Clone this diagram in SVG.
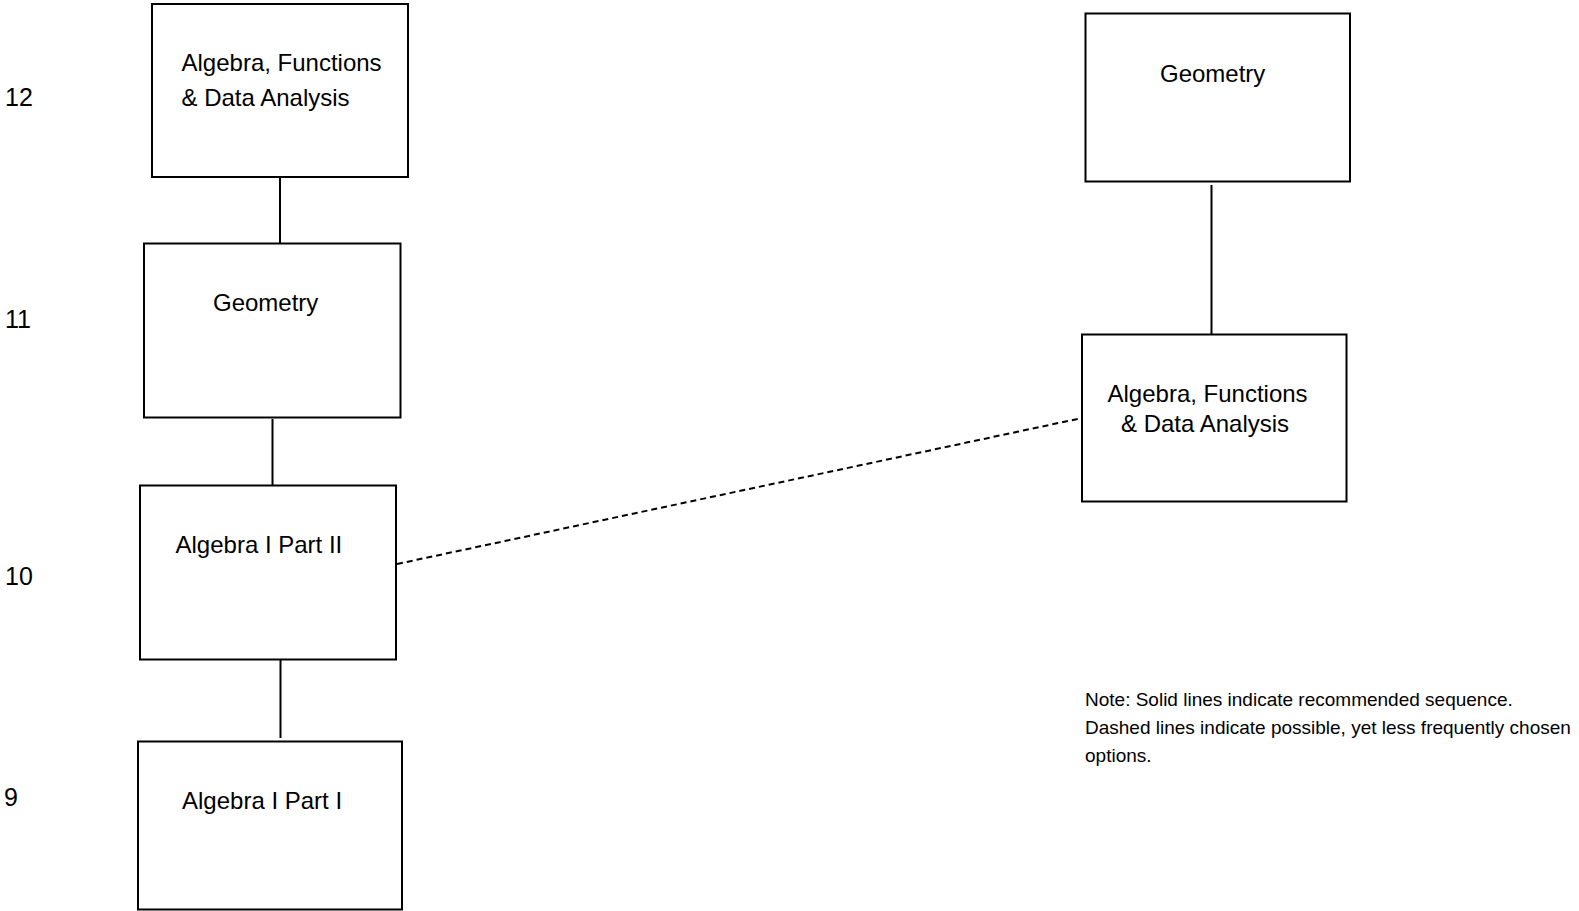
<svg xmlns="http://www.w3.org/2000/svg" width="1579" height="911" viewBox="0 0 1579 911">
<style>
.box{fill:#fff;stroke:#000;stroke-width:2}
.lbl{font-family:"Liberation Sans",Arial,sans-serif;font-size:24px;fill:#000}
.grade{font-family:"Liberation Sans",Arial,sans-serif;font-size:25px;fill:#000}
.note{font-family:"Liberation Sans",Arial,sans-serif;font-size:19px;fill:#000}
.solid{stroke:#000;stroke-width:2;fill:none}
.dash{stroke:#000;stroke-width:2;fill:none;stroke-dasharray:6 4}
</style>
<rect width="1579" height="911" fill="#fff"/>
<g id="grades">
<text class="grade" x="5" y="106">12</text>
<text class="grade" x="5" y="327.5">11</text>
<text class="grade" x="5" y="585">10</text>
<text class="grade" x="4" y="806">9</text>
</g>
<g id="connectors">
<line class="solid" x1="280" y1="178" x2="280" y2="243"/>
<line class="solid" x1="272.5" y1="419" x2="272.5" y2="486"/>
<line class="solid" x1="280.5" y1="660" x2="280.5" y2="738"/>
<line class="solid" x1="1211.5" y1="185" x2="1211.5" y2="334"/>
<line class="dash" x1="397" y1="564" x2="1082" y2="418"/>
</g>
<g id="n-afda-12">
<rect class="box" x="152" y="4" width="256" height="173"/>
<text class="lbl" x="181.5" y="71">Algebra, Functions</text>
<text class="lbl" x="181.5" y="106">&amp; Data Analysis</text>
</g>
<g id="n-geom-11">
<rect class="box" x="144" y="243.5" width="256.5" height="174"/>
<text class="lbl" x="213" y="311">Geometry</text>
</g>
<g id="n-alg2-10">
<rect class="box" x="140" y="485.5" width="256" height="174"/>
<text class="lbl" x="175.5" y="552.5">Algebra I Part II</text>
</g>
<g id="n-alg1-9">
<rect class="box" x="138" y="741.5" width="264" height="168"/>
<text class="lbl" x="182" y="809">Algebra I Part I</text>
</g>
<g id="n-geom-r">
<rect class="box" x="1085.5" y="13.5" width="264.5" height="168"/>
<text class="lbl" x="1160" y="81.5">Geometry</text>
</g>
<g id="n-afda-r">
<rect class="box" x="1082" y="334.5" width="264.5" height="167"/>
<text class="lbl" x="1107.5" y="401.5">Algebra, Functions</text>
<text class="lbl" x="1121" y="432">&amp; Data Analysis</text>
</g>
<g id="note">
<text class="note" x="1085" y="706">Note: Solid lines indicate recommended sequence.</text>
<text class="note" x="1085" y="734">Dashed lines indicate possible, yet less frequently chosen</text>
<text class="note" x="1085" y="762">options.</text>
</g>
</svg>
